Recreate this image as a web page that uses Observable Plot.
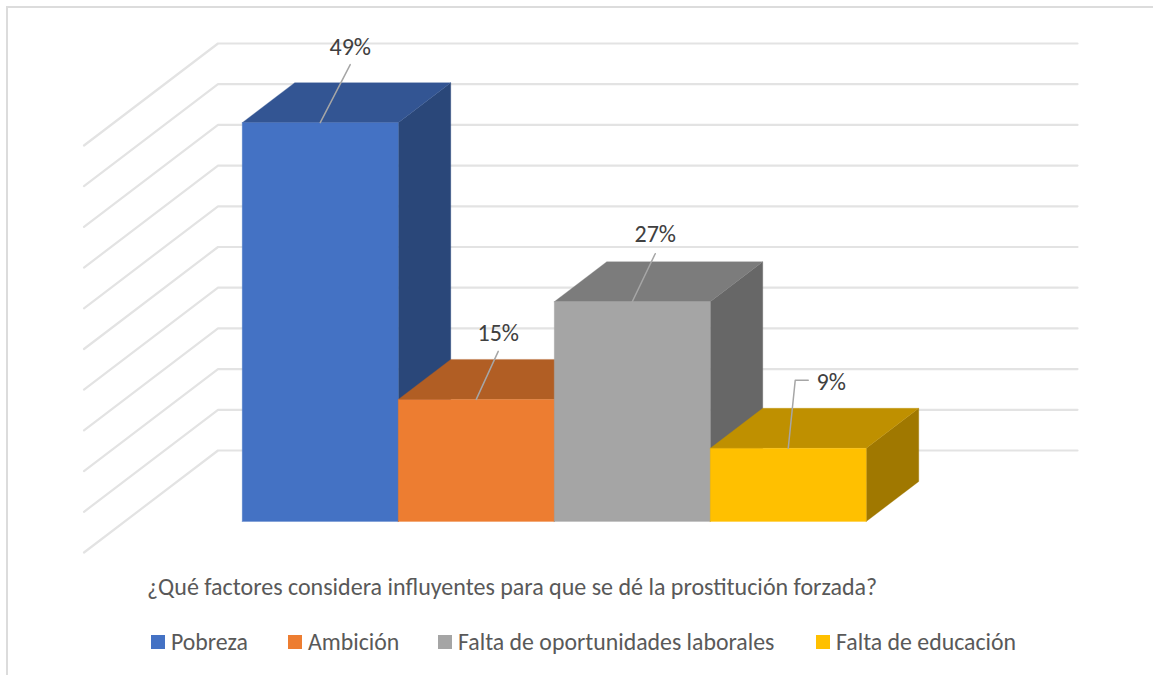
<!DOCTYPE html>
<html lang="es">
<head>
<meta charset="utf-8">
<script src="https://cdn.jsdelivr.net/npm/d3@7"></script>
<script src="https://cdn.jsdelivr.net/npm/@observablehq/plot@0.6"></script>
<style>
  html, body { margin: 0; padding: 0; background: #fff; overflow: hidden; }
  #frame { position: absolute; left: 6px; top: 6px; width: 1147px; height: 669px;
           border-left: 2px solid #dcdcdc; border-top: 2px solid #dcdcdc; box-sizing: border-box; }
  #chart { position: absolute; left: 0; top: 0; }
  #chart svg { display: block; }
  #title { position: absolute; left: 147px; top: 572px; font: 24px Carlito, Lato, "Open Sans", sans-serif; color: #595959; white-space: nowrap; }
  #legend { position: absolute; left: 0; top: 628px; width: 1153px; height: 28px; font: 23.8px Carlito, Lato, "Open Sans", sans-serif; color: #595959; }
  .key { position: absolute; top: 0; white-space: nowrap; line-height: 28px; }
  .key i { position: absolute; left: 0; top: 7px; width: 14px; height: 14px; }
  .key span { position: absolute; left: 20px; top: 0; }
</style>
</head>
<body>
<div id="frame"></div>
<div id="chart"></div>
<div id="title"></div>
<div id="legend"></div>
<script>
// Chart values
const categories = ["Pobreza", "Ambición", "Falta de oportunidades laborales", "Falta de educación"];
const percents = [49, 15, 27, 9];
const frontColors = ["#4472c4", "#ed7d31", "#a5a5a5", "#ffc000"];
const topColors = ["#335593", "#b15e24", "#7c7c7c", "#bf9000"];
const sideColors = ["#2a4779", "#934d1e", "#676767", "#a07800"];
const gridValues = [0, 5, 10, 15, 20, 25, 30, 35, 40, 45, 50];
const axisTitle = "¿Qué factores considera influyentes para que se dé la prostitución forzada?";

// Oblique projection of the 3D box: x in column widths, y in percent, d in floor depth (0 front, 1 back wall)
const pxPerColumn = 156, pxPerPercent = 8.14;
const depthX = 134 / pxPerColumn, depthY = 102 / pxPerPercent;
const floorColumns = 859.5 / pxPerColumn;
const firstColumn = 117.5 / pxPerColumn;
const barFront = 0.304, barBack = 0.696;
const project = (x, y, d) => ({px: x + d * depthX, py: y + d * depthY});

const width = 1153, height = 570;
const originX = 83.5, originY = 552;
const xScale = {domain: [-originX / pxPerColumn, (width - originX) / pxPerColumn], range: [0, width]};
const yScale = {domain: [0, originY / pxPerPercent], range: [originY, 0]};

// Gridlines: side wall then back wall
const gridLines = gridValues.flatMap(v => [
  {v, ...project(0, v, 0)},
  {v, ...project(0, v, 1)},
  {v, ...project(floorColumns, v, 1)}
]);

// Box faces
function box(i) {
  const x0 = firstColumn + i, x1 = x0 + 1, v = percents[i];
  const poly = (face, fill, pts) => pts.map(p => ({id: `${i}-${face}`, fill, ...project(...p)}));
  return [
    ...poly("side", sideColors[i], [[x1, 0, barFront], [x1, 0, barBack], [x1, v, barBack], [x1, v, barFront]]),
    ...poly("top", topColors[i], [[x0, v, barFront], [x1, v, barFront], [x1, v, barBack], [x0, v, barBack]]),
    ...poly("front", frontColors[i], [[x0, 0, barFront], [x1, 0, barFront], [x1, v, barFront], [x0, v, barFront]])
  ];
}
const faces = percents.flatMap((_, i) => box(i));

// Label anchors relative to each column's front top centre (pixels)
const labelOffset = [[30, -75], [22, -66], [23, -67], [43, -66]];
const leaderEnd = [[30, -58], [22, -48], [23, -48], [7, -68]];
const elbowEnd = [null, null, null, [20, -68]];

const anchor = i => project(firstColumn + i + 0.5, percents[i], barFront);
const labels = percents.map((v, i) => {
  const a = anchor(i);
  return {label: v + "%", px: a.px, py: a.py, dx: labelOffset[i][0], dy: labelOffset[i][1]};
});
const leaders = percents.flatMap((v, i) => {
  const a = anchor(i);
  const pts = [[0, 0], leaderEnd[i]];
  if (elbowEnd[i]) pts.push(elbowEnd[i]);
  return pts.map(([ox, oy]) => ({id: i, px: a.px + ox / pxPerColumn, py: a.py - oy / pxPerPercent}));
});

const plot = Plot.plot({
  width, height,
  margin: 0,
  x: {...xScale, axis: null},
  y: {...yScale, axis: null},
  style: {background: "transparent"},
  marks: [
    Plot.line(gridLines, {x: "px", y: "py", z: "v", stroke: "#e3e3e3", strokeWidth: 2.2, curve: "linear"}),
    ...d3.groups(faces, d => d.id).map(([id, pts]) =>
      Plot.line(pts.concat(pts[0]), {x: "px", y: "py", fill: pts[0].fill, stroke: pts[0].fill, strokeWidth: 0.3, curve: "linear"})
    ),
    Plot.line(leaders, {x: "px", y: "py", z: "id", stroke: "#a6a6a6", strokeWidth: 1.5, curve: "linear"}),
    ...labels.map(d => Plot.text([d], {
      x: "px", y: "py", text: "label", dx: d.dx, dy: d.dy,
      fill: "#404040", fontSize: 24, fontFamily: "Carlito, Lato, 'Open Sans', sans-serif"
    }))
  ]
});
document.getElementById("chart").append(plot);

document.getElementById("title").textContent = axisTitle;
const keyLefts = [151, 288, 438, 816];
const legend = document.getElementById("legend");
categories.forEach((c, i) => {
  const k = document.createElement("div");
  k.className = "key";
  k.style.left = keyLefts[i] + "px";
  const sw = document.createElement("i");
  sw.style.background = frontColors[i];
  const t = document.createElement("span");
  t.textContent = c;
  k.append(sw, t);
  legend.append(k);
});
</script>
</body>
</html>
